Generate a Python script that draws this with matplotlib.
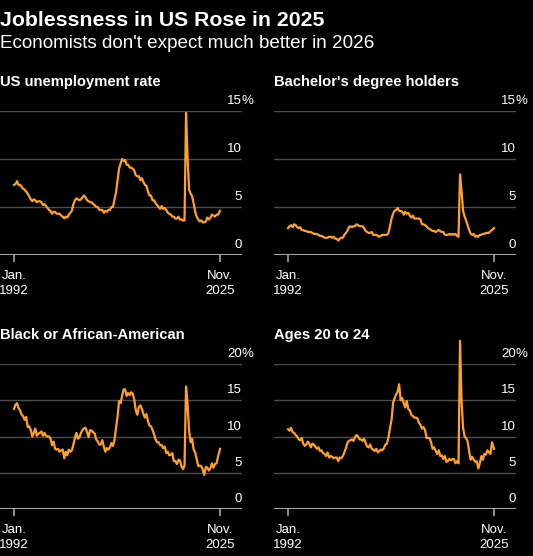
import pandas as pd
import matplotlib
matplotlib.use('Agg')
import matplotlib.pyplot as plt
import matplotlib.transforms as mtransforms

plt.rcParams['font.family'] = ['Liberation Sans', 'DejaVu Sans']

# sampled Jan/Apr/Jul/Oct 1992 - Jul 2025, then Nov 2025
dates = list(pd.date_range('1992-01-01', '2025-07-01', freq='QS')) + [pd.Timestamp('2025-11-01')]

us_rate = [
    7.3, 7.4, 7.7, 7.3,   7.3, 7.1, 6.9, 6.8,   6.6, 6.4, 6.1, 5.8,   5.6, 5.8, 5.7, 5.5,
    5.6, 5.6, 5.5, 5.2,   5.3, 5.1, 4.9, 4.7,   4.6, 4.3, 4.5, 4.5,   4.3, 4.3, 4.3, 4.1,
    4.0, 3.8, 4.0, 3.9,   4.2, 4.4, 4.6, 5.3,   5.7, 5.9, 5.8, 5.7,   5.8, 6.0, 6.2, 6.0,
    5.7, 5.6, 5.5, 5.5,   5.3, 5.2, 5.0, 5.0,   4.7, 4.7, 4.7, 4.4,   4.6, 4.5, 4.7, 4.7,
    5.0, 5.0, 5.8, 6.5,   7.8, 9.0, 9.5, 10.0,  9.8, 9.9, 9.4, 9.4,   9.1, 9.1, 9.0, 8.8,
    8.3, 8.2, 8.2, 7.8,   8.0, 7.6, 7.3, 7.2,   6.6, 6.2, 6.2, 5.7,   5.7, 5.4, 5.2, 5.0,
    4.8, 5.1, 4.8, 4.9,   4.7, 4.4, 4.3, 4.2,   4.0, 4.0, 3.8, 3.8,   4.0, 3.7, 3.7, 3.6,
    3.6, 14.8, 10.2, 6.8, 6.4, 6.1, 5.4, 4.5,   4.0, 3.7, 3.5, 3.6,   3.4, 3.4, 3.5, 3.9,
    3.7, 3.9, 4.2, 4.1,   4.0, 4.2, 4.2, 4.6,
]

bachelors = [
    2.8, 3.0, 3.1, 2.9,   3.2, 3.1, 2.9, 2.8,   2.9, 2.6, 2.6, 2.5,   2.5, 2.4, 2.4, 2.4,
    2.3, 2.2, 2.2, 2.2,   2.1, 2.0, 2.0, 1.9,   1.8, 1.8, 1.8, 1.9,   1.9, 1.8, 1.9, 1.7,
    1.7, 1.5, 1.7, 1.8,   1.8, 2.1, 2.3, 2.5,   2.9, 3.0, 2.9, 3.0,   3.0, 3.2, 3.1, 3.0,
    3.0, 3.0, 2.8, 2.5,   2.4, 2.3, 2.3, 2.4,   2.1, 2.1, 2.1, 2.0,   1.9, 2.0, 2.1, 2.1,
    2.1, 2.1, 2.3, 3.0,   3.8, 4.3, 4.6, 4.7,   4.9, 4.6, 4.6, 4.5,   4.2, 4.5, 4.3, 4.4,
    4.1, 3.9, 4.1, 3.8,   3.8, 3.8, 3.8, 3.7,   3.2, 3.2, 3.1, 3.0,   2.8, 2.7, 2.6, 2.5,
    2.5, 2.4, 2.5, 2.6,   2.5, 2.4, 2.4, 2.1,   2.1, 2.1, 2.2, 2.1,   2.2, 2.1, 2.2, 2.0,
    1.9, 8.4, 6.7, 4.6,   4.0, 3.6, 3.1, 2.6,   2.2, 2.1, 2.2, 1.9,   2.0, 1.9, 2.1, 2.1,
    2.2, 2.2, 2.3, 2.3,   2.3, 2.5, 2.6, 2.8,
]

black = [
    13.8, 14.4, 14.6, 13.9,  13.6, 13.0, 12.8, 12.3,  12.7, 11.3, 11.4, 10.9,  10.0, 10.5, 11.1, 10.1,
    10.4, 10.5, 10.7, 10.1,  10.5, 10.1, 10.0, 10.0,  9.7, 8.8, 9.3, 8.3,     8.2, 8.3, 7.9, 8.1,
    8.2, 7.0, 7.9, 7.4,     8.2, 7.9, 8.1, 8.9,     9.8, 10.5, 9.7, 9.9,    10.5, 10.9, 11.1, 11.2,
    10.6, 9.9, 10.9, 10.8,  10.6, 10.4, 9.6, 9.3,   8.9, 8.9, 9.5, 8.6,     7.9, 8.4, 8.2, 8.5,
    9.1, 8.7, 9.5, 11.2,    12.7, 14.9, 14.6, 15.6, 16.5, 16.5, 15.6, 16.0, 15.7, 16.1, 15.9, 15.1,
    13.6, 13.0, 14.1, 14.3,  13.8, 13.1, 12.6, 13.1,  12.1, 11.5, 11.4, 10.9,  10.3, 9.6, 9.2, 9.2,
    8.8, 8.8, 8.4, 8.6,     7.7, 7.9, 7.4, 7.5,     7.7, 6.6, 6.6, 6.2,     6.8, 6.7, 5.9, 5.5,
    6.0, 16.9, 14.5, 10.8,  9.2, 9.7, 8.2, 7.8,     6.9, 5.9, 6.0, 5.9,     5.4, 4.7, 5.8, 5.7,
    5.3, 5.6, 6.3, 5.7,     6.2, 6.3, 7.2, 8.3,
]

ages_20_24 = [
    11.0, 10.8, 11.2, 10.6,  10.5, 10.2, 10.0, 9.6,  9.5, 9.8, 9.0, 8.7,    8.9, 9.3, 9.0, 8.5,
    9.0, 8.9, 8.6, 8.3,     8.5, 8.0, 8.1, 7.7,     7.6, 7.3, 7.8, 7.1,     7.3, 7.2, 7.0, 7.1,
    7.1, 6.6, 7.1, 7.0,     7.3, 7.8, 8.4, 9.1,     9.4, 9.5, 9.6, 9.4,     9.9, 10.2, 10.0, 9.6,
    9.6, 9.4, 9.7, 9.1,     8.6, 8.5, 8.9, 8.3,     8.2, 8.0, 8.3, 7.8,     8.0, 8.2, 8.1, 8.4,
    8.9, 9.0, 9.9, 11.2,    12.3, 14.6, 15.3, 15.8, 16.2, 17.2, 15.0, 15.3, 14.6, 14.0, 14.9, 13.8,
    13.6, 13.0, 12.8, 12.6,  12.6, 12.5, 11.9, 11.6,  11.1, 11.3, 10.9, 9.8,   9.8, 9.8, 9.2, 8.3,
    8.5, 8.0, 7.6, 8.1,     7.3, 7.4, 6.9, 7.3,     6.5, 6.6, 6.9, 6.7,     6.9, 6.9, 6.3, 6.6,
    6.3, 23.2, 14.9, 11.2,  10.0, 9.8, 9.3, 7.9,    6.8, 7.2, 6.8, 6.5,     6.6, 5.6, 6.3, 7.3,
    6.8, 7.6, 7.5, 8.1,     7.8, 7.6, 9.2, 8.3,
]

panels = [
    ('US unemployment rate', us_rate, [0, 5, 10, 15]),
    ("Bachelor's degree holders", bachelors, [0, 5, 10, 15]),
    ('Black or African-American', black, [0, 5, 10, 15, 20]),
    ('Ages 20 to 24', ages_20_24, [0, 5, 10, 15, 20]),
]

W, H = 533, 556
fig = plt.figure(figsize=(W / 100, H / 100), dpi=100, facecolor='black')

fig.text(0, 1 - 26 / H, 'Joblessness in US Rose in 2025', color='white',
         fontsize=15.3, fontweight='bold', va='baseline')
fig.text(0, 1 - 48 / H, "Economists don't expect much better in 2026", color='white',
         fontsize=13.6, va='baseline')

orange = '#FFA028'
# (left, bottom, right, top) in pixels
boxes = [(0, 255, 242, 111), (274, 255, 516, 111),
         (0, 509, 242, 364), (274, 509, 516, 364)]

for (title, vals, yt), (x0, yb, x1, yt_px) in zip(panels, boxes):
    ax = fig.add_axes([x0 / W, 1 - yb / H, (x1 - x0) / W, (yb - yt_px) / H])
    ax.set_facecolor('black')
    ax.plot(dates, vals, color=orange, lw=1.6, clip_on=False, zorder=4)

    ax.set_xlim(pd.Timestamp('1989-09-12'), pd.Timestamp('2029-06-10'))
    ax.set_ylim(0, yt[-1])
    for s in ax.spines.values():
        s.set_visible(False)

    ax.set_yticks(yt)
    ax.grid(axis='y', color='#4d4d4d', lw=1)
    ax.tick_params(axis='y', length=0, labelleft=False)
    ax.axhline(0, color='#a6a6a6', lw=1.5, zorder=3)

    ax.set_xticks([dates[0], dates[-1]])
    ax.set_xticklabels(['Jan.\n1992', 'Nov.\n2025'], linespacing=1.3)
    ax.tick_params(axis='x', length=5, width=1.2, color='#a6a6a6',
                   labelcolor='white', labelsize=9.5, pad=6)

    lab_tr = mtransforms.offset_copy(
        mtransforms.blended_transform_factory(ax.transAxes, ax.transData),
        fig=fig, y=7, units='dots')
    for v in yt:
        ax.text(1, v, str(v), transform=lab_tr, ha='right', va='baseline',
                color='white', fontsize=9.5)
    ax.text(1, yt[-1], '%', transform=lab_tr, ha='left', va='baseline',
            color='white', fontsize=9.5)

    title_tr = mtransforms.offset_copy(ax.transAxes, fig=fig, y=25, units='dots')
    ax.text(0, 1, title, transform=title_tr, ha='left', va='baseline',
            color='white', fontsize=10.6, fontweight='bold')

fig.savefig('out.png', dpi=100, facecolor='black')
